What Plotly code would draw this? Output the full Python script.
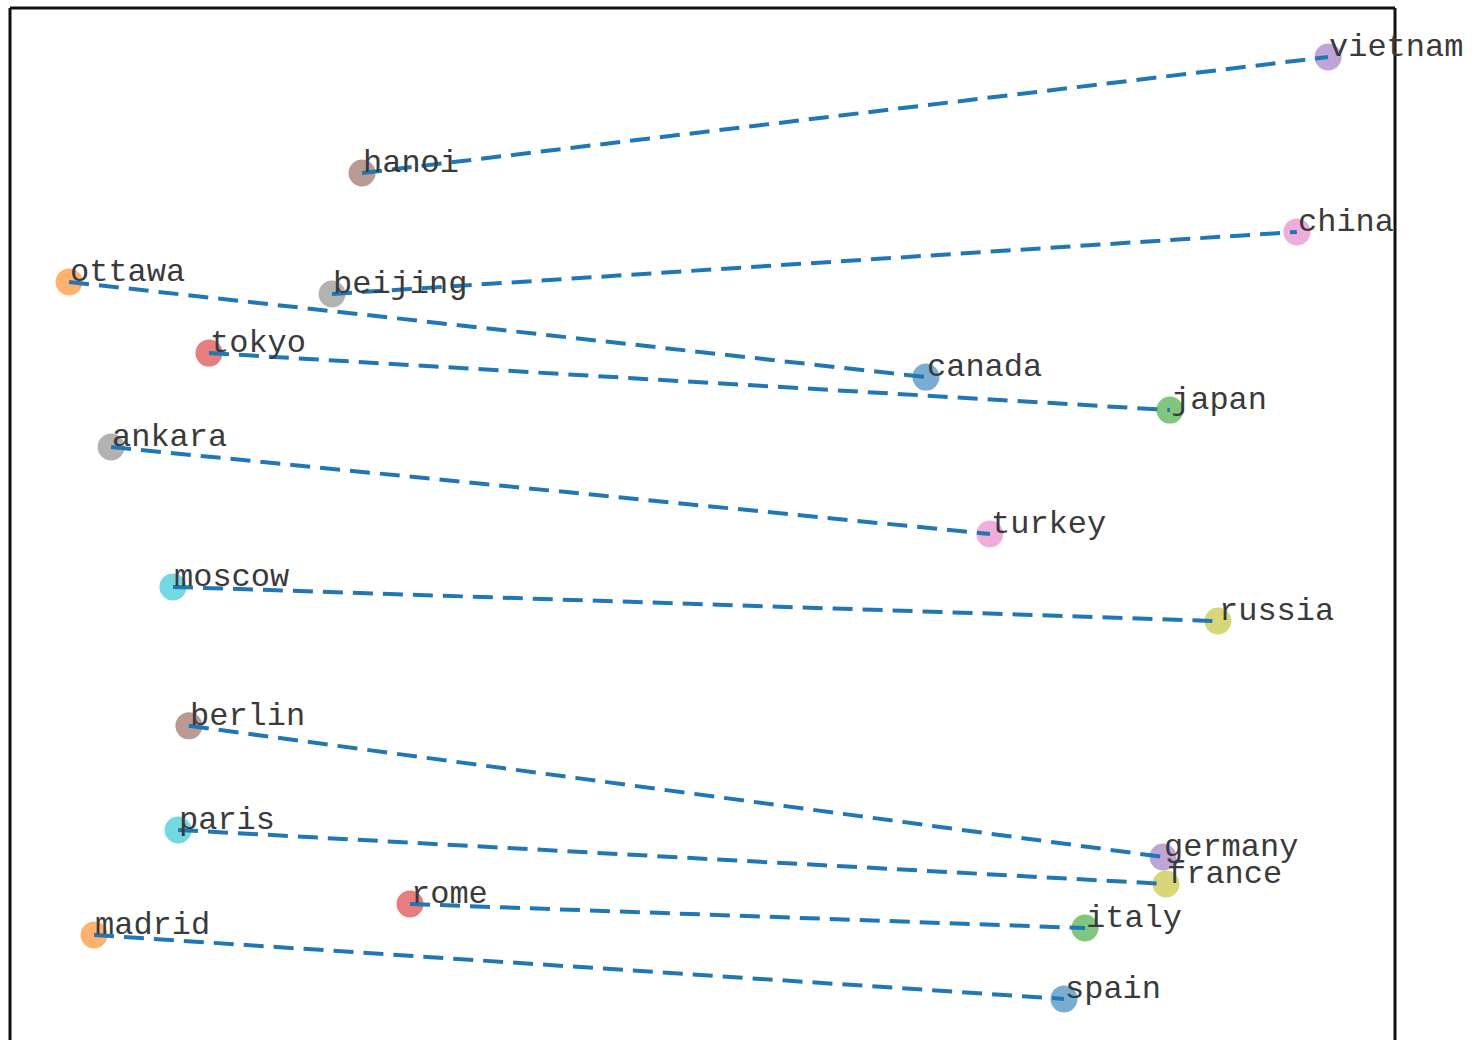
import plotly.graph_objects as go

# word list (order gives matplotlib tab10 colour cycle)
words = ["canada", "ottawa", "japan", "tokyo", "vietnam", "hanoi", "china", "beijing",
         "russia", "moscow", "spain", "madrid", "italy", "rome", "germany", "berlin",
         "turkey", "ankara", "france", "paris"]
x_vals = [0.968, -2.744, 2.025, -2.138, 2.710, -1.475, 2.575, -1.605,
          2.233, -2.294, 1.566, -2.636, 1.657, -1.267, 1.995, -2.225,
          1.245, -2.562, 2.008, -2.272]
y_vals = [1.401, 1.813, 1.258, 1.505, 2.788, 2.285, 2.030, 1.761,
          0.344, 0.492, -1.293, -1.016, -0.986, -0.882, -0.678, -0.110,
          0.721, 1.098, -0.795, -0.561]
# capital -> country links
pairs = [("ottawa", "canada"), ("tokyo", "japan"), ("hanoi", "vietnam"),
         ("beijing", "china"), ("moscow", "russia"), ("madrid", "spain"),
         ("rome", "italy"), ("berlin", "germany"), ("ankara", "turkey"),
         ("paris", "france")]

tab10 = ["#1f77b4", "#ff7f0e", "#2ca02c", "#d62728", "#9467bd",
         "#8c564b", "#e377c2", "#7f7f7f", "#bcbd22", "#17becf"]

fig = go.Figure()
pos = {w: (x, y) for w, x, y in zip(words, x_vals, y_vals)}

for i, w in enumerate(words):
    fig.add_trace(go.Scatter(
        x=[pos[w][0]], y=[pos[w][1]], mode="markers",
        marker=dict(size=27, color=tab10[i % 10], opacity=0.6, line=dict(width=0)),
        showlegend=False, hoverinfo="skip"))

for a, b in pairs:
    fig.add_trace(go.Scatter(
        x=[pos[a][0], pos[b][0]], y=[pos[a][1], pos[b][1]], mode="lines",
        line=dict(color="#1f77b4", width=4, dash="20px,10px"),
        showlegend=False, hoverinfo="skip"))

for w in words:
    fig.add_annotation(x=pos[w][0], y=pos[w][1], text=w, showarrow=False,
                       xanchor="left", yanchor="bottom", xshift=-1, yshift=-11,
                       font=dict(family="Liberation Mono, Courier New, monospace",
                                 size=32, color="#3a3a3a"))

for x0, y0, x1, y1 in [(0, 0, 0, 1), (0, 1, 1, 1), (1, 1, 1, 0)]:
    fig.add_shape(type="line", xref="paper", yref="paper", x0=x0, y0=y0, x1=x1, y1=y1,
                  line=dict(color="#111111", width=3))

fig.update_layout(
    width=1475, height=1040,
    margin=dict(l=10, r=80, t=8, b=0),
    paper_bgcolor="white", plot_bgcolor="white",
    xaxis=dict(range=[-3, 3], visible=False),
    yaxis=dict(range=[-1.471, 3.0], visible=False),
)

fig.write_html("out.html")
